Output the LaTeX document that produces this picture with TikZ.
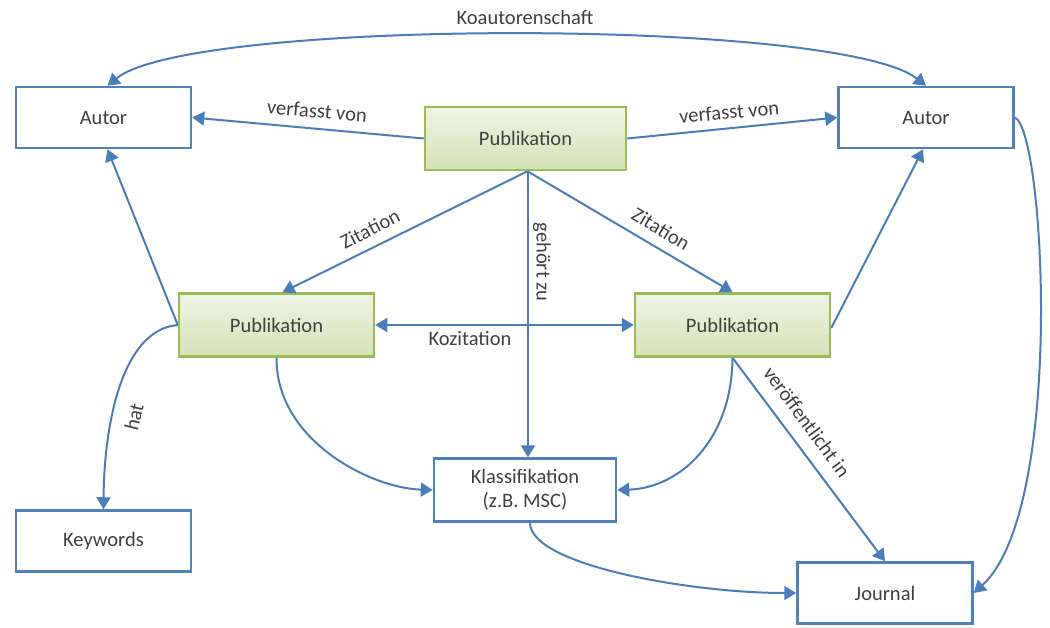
\documentclass[tikz,border=0pt]{standalone}
\usepackage{fontspec}
\setmainfont{Carlito}
\usetikzlibrary{arrows.meta}
\definecolor{eblue}{HTML}{4A7EBB}
\definecolor{bblue}{HTML}{4F81BD}
\definecolor{ggreen}{HTML}{9BBB59}
\definecolor{gtop}{HTML}{EEF4E4}
\definecolor{gbot}{HTML}{D3E3B6}
\definecolor{txt}{HTML}{404040}
\begin{document}
\begin{tikzpicture}[x=1pt,y=-1pt,
  font=\fontsize{20.5}{24}\selectfont,
  box/.style={draw=bblue, line width=2.5pt, fill=white, text=txt, minimum width=175pt, minimum height=61pt, inner sep=0pt},
  pub/.style={draw=ggreen, line width=2.5pt, top color=gtop, bottom color=gbot, text=txt, minimum width=195pt, minimum height=63pt, inner sep=0pt},
  edge/.style={draw=eblue, line width=2pt, -{Triangle[length=12pt,width=14pt]}},
  dedge/.style={draw=eblue, line width=2pt, {Triangle[length=12pt,width=14pt]}-{Triangle[length=12pt,width=14pt]}},
  lab/.style={text=txt, inner sep=0pt}]
\useasboundingbox (0,0) rectangle (1050,627);
% nodes
\node[box] (AL) at (103.5,117.5) {Autor};
\node[box] (AR) at (926,117.5) {Autor};
\node[pub, minimum width=201pt] (PT) at (525.5,138.5) {Publikation};
\node[pub] (PL) at (276.5,325) {Publikation};
\node[pub] (PR) at (732.5,325) {Publikation};
\node[box, minimum width=182pt, minimum height=63pt, align=center] (K) at (525,490) {Klassifikation\\(z.B. MSC)};
\node[box] (KW) at (103.5,541) {Keywords};
\node[box] (J) at (885,593) {Journal};
% edges
\draw[dedge] ([xshift=4pt]AL.north) .. controls (190,18) and (840,18) .. (AR.north);
\draw[edge] (PT.west) -- (AL.east);
\draw[edge] (PT.east) -- (AR.west);
\draw[edge] ([xshift=2pt]PT.south) -- ([xshift=6pt]PL.north);
\draw[edge] ([xshift=2pt]PT.south) -- (PR.north);
\draw[edge] ([xshift=2.5pt]PT.south) -- ([xshift=2.5pt]PT.south |- K.north);
\draw[dedge] (PL.east) -- (PR.west);
\draw[edge] (PL.west) -- ([xshift=4pt]AL.south);
\draw[edge] (PL.west) .. controls (120,330) and (104,430) .. (KW.north);
\draw[edge] (PL.south) .. controls (276,440) and (370,488) .. (K.west);
\draw[edge] (PR.south) .. controls (732,440) and (680,488) .. (K.east);
\draw[edge] ([yshift=-3pt]PR.east) -- ([xshift=-3pt]AR.south);
\draw[edge] (PR.south) -- (J.north);
\draw[edge] ([xshift=5pt]K.south) .. controls (530,565) and (690,593) .. (J.west);
\draw[edge] (AR.east) .. controls (1045,130) and (1065,510) .. (J.east);
% labels
\node[lab] (l1) at (525,17) {Koautorenschaft};
\node[lab, rotate=-4.9] (l2) at (317,111) {verfasst von};
\node[lab, rotate=5.3] (l3) at (729,112) {verfasst von};
\node[lab, rotate=26.8] (l4) at (370,229) {Zitation};
\node[lab, rotate=-31.2] (l5) at (661,229) {Zitation};
\node[lab, rotate=-90] (l6) at (542,262) {gehört zu};
\node[lab, rotate=-53.8] (l7) at (807,422) {veröffentlicht in};
\node[lab, rotate=76] (l8) at (134,417) {hat};
\node[lab] (l9) at (470,338) {Kozitation};
\end{tikzpicture}
\end{document}
